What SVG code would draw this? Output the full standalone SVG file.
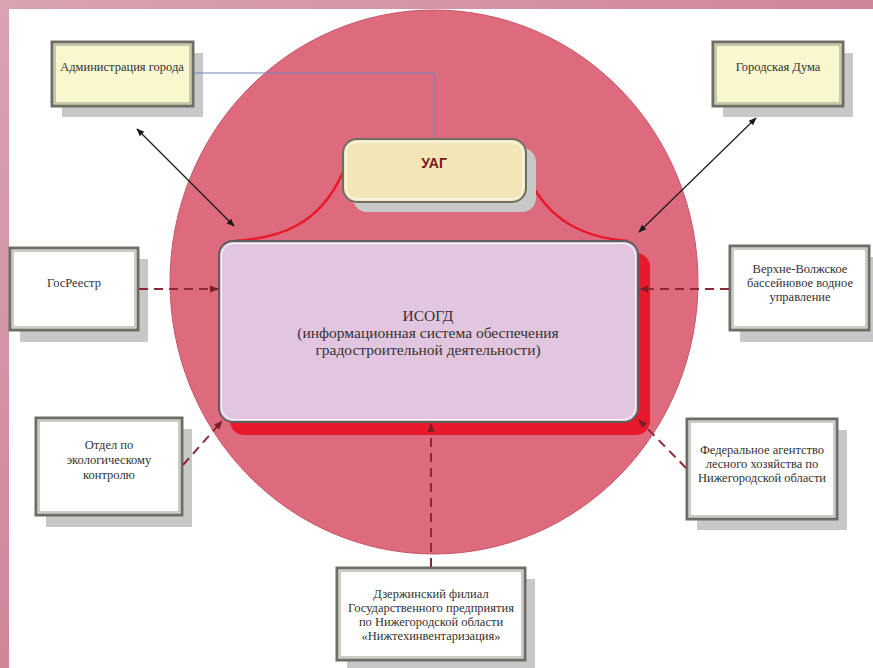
<svg xmlns="http://www.w3.org/2000/svg" width="873" height="668" viewBox="0 0 873 668">
<defs>
<linearGradient id="bg" x1="0" y1="0" x2="1" y2="1">
<stop offset="0" stop-color="#D9A3B1"/>
<stop offset="0.5" stop-color="#CF8699"/>
<stop offset="1" stop-color="#DDA9B6"/>
</linearGradient>
<marker id="ab" viewBox="0 0 10 10" refX="9" refY="5" markerWidth="8" markerHeight="8" orient="auto-start-reverse" markerUnits="userSpaceOnUse">
<path d="M0,1 L10,5 L0,9 z" fill="#1a1a1a"/>
</marker>
<marker id="ar" viewBox="0 0 10 10" refX="9" refY="5" markerWidth="9" markerHeight="9" orient="auto" markerUnits="userSpaceOnUse">
<path d="M0,1 L10,5 L0,9 z" fill="#7A1F2A"/>
</marker>
<style>
.sh{fill:#C8C8C8}
.bx{stroke:#6E6E66;stroke-width:3}
.in{fill:none;stroke:#9A9A90;stroke-width:1}
.y{fill:#F8F7CE}
.w{fill:#FFFFFF}
text{font-family:'Liberation Serif','DejaVu Serif','Times New Roman',serif}
.t{font-size:12.5px;fill:#333;text-anchor:middle}
.big{font-size:15.5px;fill:#333;text-anchor:middle}
.dash{stroke:#8B2A35;stroke-width:2;stroke-dasharray:9,6;fill:none}
.blk{stroke:#1a1a1a;stroke-width:1.2;fill:none}
</style>
</defs>
<rect x="0" y="0" width="873" height="668" fill="url(#bg)"/>
<rect x="9" y="9" width="864" height="659" fill="#FFFFFF"/>
<ellipse cx="434" cy="282" rx="264" ry="272" fill="#DD6B7D" stroke="#C85568" stroke-width="1"/>

<g id="isogd">
<rect x="230" y="253" width="420" height="182" rx="14" fill="#E8192A"/>
<path d="M343,172 C320,225 280,238 235,241" fill="none" stroke="#E8192A" stroke-width="2.5"/>
<path d="M526,172 C548,225 590,238 628,241" fill="none" stroke="#E8192A" stroke-width="2.5"/>
<rect x="219" y="241" width="419" height="181" rx="14" fill="#E2C5DF" stroke="#5E5E60" stroke-width="2"/>
<rect x="221.5" y="243.5" width="414" height="176" rx="12" fill="none" stroke="#FFFFFF" stroke-width="1"/>
<text x="428" y="321" class="big">ИСОГД</text>
<text x="428" y="338" class="big">(информационная система обеспечения</text>
<text x="428" y="355" class="big">градостроительной деятельности)</text>
</g>

<g id="uag">
<rect x="353" y="148" width="183" height="64" rx="14" class="sh"/>
<rect x="343" y="139" width="183" height="63" rx="14" fill="#F2E5B8" stroke="#6E6E66" stroke-width="2"/>
<rect x="346" y="142" width="177" height="57" rx="11" fill="none" stroke="#FFFFFF" stroke-width="1"/>
<text x="434" y="168" style="font-family:'Liberation Sans',Arial,sans-serif" font-size="14" font-weight="bold" fill="#7A1A1A" text-anchor="middle">УАГ</text>
</g>

<g id="admin">
<rect x="62" y="53" width="141" height="64" class="sh"/>
<rect x="52" y="42" width="141" height="64" class="y bx"/>
<rect x="55" y="45" width="135" height="58" class="in"/>
<text x="122" y="71" class="t">Администрация города</text>
</g>

<g id="duma">
<rect x="723" y="53" width="130" height="64" class="sh"/>
<rect x="713" y="42" width="130" height="64" class="y bx"/>
<rect x="716" y="45" width="124" height="58" class="in"/>
<text x="778" y="71" class="t">Городская Дума</text>
</g>

<g id="gosreestr">
<rect x="20" y="259" width="128" height="83" class="sh"/>
<rect x="10" y="248" width="128" height="82" class="w bx"/>
<rect x="13" y="251" width="122" height="76" class="in"/>
<text x="74" y="287" class="t">ГосРеестр</text>
</g>

<g id="volga">
<rect x="740" y="257" width="133" height="85" class="sh"/>
<rect x="730" y="246" width="139" height="84" class="w bx"/>
<rect x="733" y="249" width="133" height="78" class="in"/>
<text x="800" y="273" class="t">Верхне-Волжское</text>
<text x="800" y="287" class="t">бассейновое водное</text>
<text x="800" y="301" class="t">управление</text>
</g>

<g id="ecology">
<rect x="46" y="429" width="146" height="98" class="sh"/>
<rect x="36" y="418" width="146" height="97" class="w bx"/>
<rect x="39" y="421" width="140" height="91" class="in"/>
<text x="109" y="449" class="t">Отдел по</text>
<text x="109" y="464" class="t">экологическому</text>
<text x="109" y="479" class="t">контролю</text>
</g>

<g id="forest">
<rect x="697" y="430" width="150" height="100" class="sh"/>
<rect x="687" y="419" width="150" height="100" class="w bx"/>
<rect x="690" y="422" width="144" height="94" class="in"/>
<text x="762" y="454" class="t">Федеральное агентство</text>
<text x="762" y="468" class="t">лесного хозяйства по</text>
<text x="762" y="482" class="t">Нижегородской области</text>
</g>

<g id="dzerzhinsk">
<rect x="347" y="579" width="188" height="92" class="sh"/>
<rect x="337" y="568" width="188" height="92" class="w bx"/>
<rect x="340" y="571" width="182" height="86" class="in"/>
<text x="431" y="598" class="t">Дзержинский филиал</text>
<text x="431" y="612" class="t">Государственного предприятия</text>
<text x="431" y="626" class="t">по Нижегородской области</text>
<text x="431" y="640" class="t">«Нижтехинвентаризация»</text>
</g>

<g id="connectors">
<path d="M193,73 H435 V139" fill="none" stroke="#6F86C0" stroke-width="1"/>
<line x1="137" y1="129" x2="234" y2="226" class="blk" marker-start="url(#ab)" marker-end="url(#ab)"/>
<line x1="756" y1="118" x2="639" y2="232" class="blk" marker-start="url(#ab)" marker-end="url(#ab)"/>
<line x1="139" y1="289" x2="218" y2="289" class="dash" marker-end="url(#ar)"/>
<line x1="729" y1="289" x2="640" y2="289" class="dash" marker-end="url(#ar)"/>
<line x1="183" y1="465" x2="222" y2="421" class="dash" marker-end="url(#ar)"/>
<line x1="686" y1="468" x2="639" y2="420" class="dash" marker-end="url(#ar)"/>
<line x1="431" y1="567" x2="431" y2="424" class="dash" marker-end="url(#ar)"/>
</g>
</svg>
